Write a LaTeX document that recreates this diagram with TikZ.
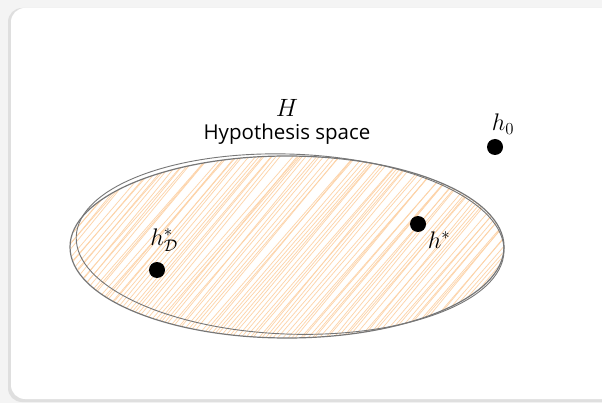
\RequirePackage{fix-cm}
\documentclass[tikz,border=0pt]{standalone}
\usepackage{fontspec}
\setsansfont{Open Sans}
\definecolor{bggray}{HTML}{F4F4F4}
\definecolor{hatch}{HTML}{FDD3A8}
\definecolor{outline}{HTML}{777777}
\tikzset{
  dot/.style={circle,fill=black,inner sep=0pt,minimum size=16pt},
  mathlbl/.style={inner sep=0pt,font=\fontsize{24}{28}\selectfont},
  hatchline/.style={draw=hatch,line width=0.7pt},
  rim/.style={draw=outline,line width=1.2pt}
}
\begin{document}
\begin{tikzpicture}[x=1pt,y=-1pt]
\useasboundingbox (0,0) rectangle (602,403);
\fill[bggray] (0,0) rectangle (602,403);
\fill[gray!25,rounded corners=14pt] (8,8) rectangle (640,402);
\fill[white,rounded corners=14pt] (11,8) rectangle (640,399);
% hatching
\begin{scope}
  \clip (287,247) ellipse [x radius=216, y radius=91];
  \pgfmathsetseed{7}
  \foreach \i in {0,...,160}{
    \pgfmathsetmacro{\xx}{\i*4.2-110+rand*1.5}
    \pgfmathsetmacro{\dd}{rand*6}
    \draw[hatchline] (\xx,345) -- (\xx+165+\dd,150);
  }
\end{scope}
% rough outline
\draw[rim] (287,247) ellipse [x radius=217, y radius=91];
\draw[rim,line width=0.9pt,rotate around={-2:(287,247)}] (290,244) ellipse [x radius=214, y radius=90];
% labels
\node[inner sep=0pt,font=\fontsize{25}{30}\selectfont] (H) at (287,108) {$H$};
\node[inner sep=0pt,font=\sffamily\fontsize{20.5}{24}\selectfont] (hs) at (287,134) {Hypothesis space};
\node[dot] (h0) at (495,147) {};
\node[mathlbl] (h0l) at (503,124) {$h_0$};
\node[dot] (hstar) at (418,224) {};
\node[mathlbl] (hstarl) at (439,240) {$h^*$};
\node[dot] (hD) at (157,270) {};
\node[mathlbl] (hDl) at (164,240) {$h^*_{\mathcal{D}}$};
\end{tikzpicture}
\end{document}
